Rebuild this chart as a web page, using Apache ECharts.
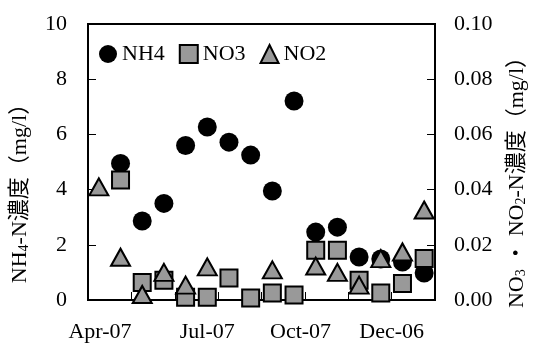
<!DOCTYPE html>
<html>
<head>
<meta charset="utf-8">
<script src="https://cdn.jsdelivr.net/npm/echarts@6/dist/echarts.min.js"></script>
<style>
  html, body { margin: 0; padding: 0; background: #fff; }
  #chart { width: 537px; height: 347px; }
</style>
</head>
<body>
<div id="chart"></div>
<script>
// sampling rounds, about two weeks apart
var samples = ['1','2','3','4','5','6','7','8','9','10','11','12','13','14','15','16'];
// NH4-N (mg/l), left axis
var nh4 = [null, 4.95, 2.86, 3.5, 5.6, 6.27, 5.72, 5.25, 3.95, 7.21, 2.46, 2.64, 1.56, 1.49, 1.38, 0.98];
// NO3-N (mg/l), right axis
var no3 = [null, 0.0435, 0.0063, 0.0072, 0.001, 0.001, 0.008, 0.0007, 0.0025, 0.0018, 0.018, 0.018, 0.0072, 0.0025, 0.006, 0.015];
// NO2-N (mg/l), right axis
var no2 = [0.041, 0.0155, 0.002, 0.010, 0.0054, 0.012, null, null, 0.0109, null, 0.0123, 0.010, 0.0054, 0.015, 0.0174, 0.0326];
// date labels under the x axis, positions in sample units
var dateLabels = ['Apr-07', 'Jul-07', 'Oct-07', 'Dec-06'];
var dateLabelPos = [0.55, 5.5, 9.8, 14.0];
var dateTicks = [2, 4, 6, 8, 10, 12, 14];

var serif = '"Liberation Serif", "Noto Sans CJK JP", serif';

function pairs(vals){
	var out = [];
	for(var i=0;i<vals.length;i++){
		if(vals[i] != null) out.push([i + 0.5, vals[i]]);
	}
	return out;
}

var nameRich = {
	t: { fontFamily: serif, fontSize: 22, color: '#000' },
	s: { fontFamily: serif, fontSize: 14, color: '#000', verticalAlign: 'bottom', padding: [7, 0, 0, 0] }
};

var chart = echarts.init(document.getElementById('chart'));
var option = {
	animation: false,
	grid: {
		left: 88, right: 102, top: 24, bottom: 47,
		show: true, borderColor: '#000', borderWidth: 2, backgroundColor: 'transparent'
	},
	legend: {
		left: 94, top: 38,
		itemWidth: 18, itemHeight: 18, itemGap: 14,
		textStyle: { fontFamily: serif, fontSize: 22, color: '#000' },
		data: ['NH4', 'NO3', 'NO2']
	},
	xAxis: {
		type: 'value', min: 0, max: samples.length,
		splitLine: { show: false },
		axisLine: { lineStyle: { color: '#000', width: 2 } },
		axisTick: { inside: true, length: 8, customValues: dateTicks, lineStyle: { color: '#000', width: 1 } },
		axisLabel: {
			customValues: dateLabelPos,
			margin: 21,
			fontFamily: serif, fontSize: 22, color: '#000',
			formatter: function(v){
				var i = dateLabelPos.indexOf(v);
				return i >= 0 ? dateLabels[i] : '';
			}
		}
	},
	yAxis: [{
		type: 'value', min: 0, max: 10, interval: 2,
		position: 'left',
		splitLine: { show: false },
		axisLine: { show: true, lineStyle: { color: '#000', width: 2 } },
		axisTick: { show: true, inside: true, length: 8, lineStyle: { color: '#000' } },
		axisLabel: { margin: 21, fontFamily: serif, fontSize: 22, color: '#000' },
		name: '{t|NH}{s|4}{t|-N濃度（mg/l）}',
		nameLocation: 'middle', nameGap: 57, nameRotate: 90,
		nameTextStyle: { padding: [0, 52, 0, 0], rich: nameRich }
	}, {
		type: 'value', min: 0, max: 0.1, interval: 0.02,
		position: 'right',
		splitLine: { show: false },
		axisLine: { show: true, lineStyle: { color: '#000', width: 2 } },
		axisTick: { show: true, inside: true, length: 8, lineStyle: { color: '#000' } },
		axisLabel: {
			margin: 19, fontFamily: serif, fontSize: 22, color: '#000',
			formatter: function(v){ return v.toFixed(2); }
		},
		name: '{t|NO}{s|3}{t| ・ NO}{s|2}{t|-N濃度（mg/l）}',
		nameLocation: 'middle', nameGap: 71, nameRotate: 90,
		nameTextStyle: { padding: [0, 30, 0, 0], rich: nameRich }
	}],
	series: [{
		name: 'NH4', type: 'scatter', yAxisIndex: 0,
		symbol: 'circle', symbolSize: 19,
		itemStyle: { color: '#000', opacity: 1 },
		data: pairs(nh4)
	}, {
		name: 'NO3', type: 'scatter', yAxisIndex: 1,
		symbol: 'rect', symbolSize: 17,
		itemStyle: { color: '#999', borderColor: '#000', borderWidth: 2, opacity: 1 },
		data: pairs(no3)
	}, {
		name: 'NO2', type: 'scatter', yAxisIndex: 1,
		symbol: 'triangle', symbolSize: [19, 17],
		itemStyle: { color: '#999', borderColor: '#000', borderWidth: 2, opacity: 1 },
		data: pairs(no2)
	}]
};
chart.setOption(option);
</script>
</body>
</html>
